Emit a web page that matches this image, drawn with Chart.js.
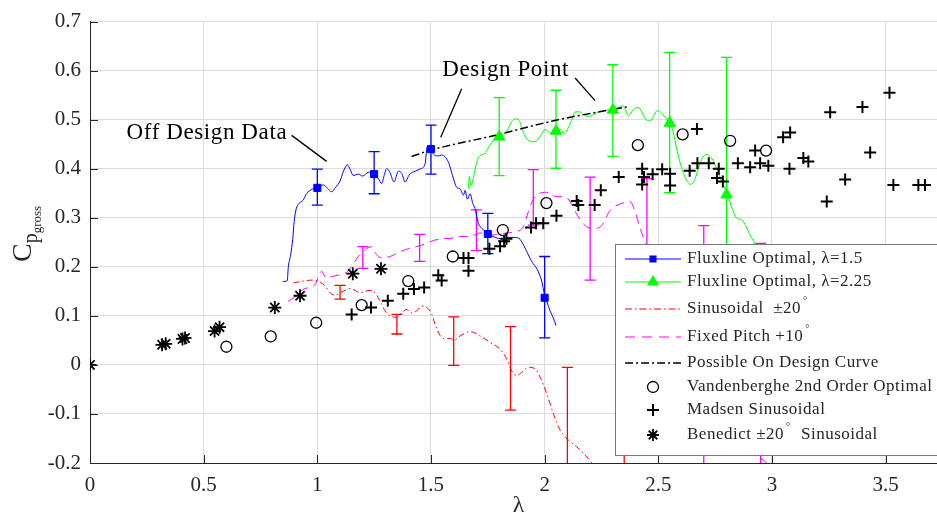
<!DOCTYPE html>
<html>
<head>
<meta charset="utf-8">
<script src="https://cdn.jsdelivr.net/npm/chart.js@4.4.1/dist/chart.umd.min.js"></script>
<style>
  html, body { margin: 0; padding: 0; background: #fff; }
  #wrap { width: 937px; height: 517px; }
</style>
</head>
<body>
<div id="wrap"><canvas id="cpChart" width="937" height="517"></canvas></div>
<script>
// Axis ticks
const xTicks = [0, 0.5, 1, 1.5, 2, 2.5, 3, 3.5];
const yTicks = [-0.2, -0.1, 0, 0.1, 0.2, 0.3, 0.4, 0.5, 0.6, 0.7];
const xMax = 3.726;

// Fluxline optimal, lambda = 1.5 (continuous curve)
const flux15Lambda = [0.848,0.868,0.872,0.883,0.892,0.898,0.906,0.921,0.938,0.950,0.968,0.990,1.000,1.026,1.045,1.063,1.080,1.100,1.115,1.132,1.145,1.158,1.180,1.200,1.225,1.250,1.268,1.283,1.295,1.305,1.320,1.337,1.357,1.372,1.386,1.405,1.430,1.455,1.474,1.484,1.500,1.511,1.530,1.547,1.577,1.595,1.613,1.628,1.643,1.650,1.660,1.672,1.684,1.694,1.708,1.723,1.738,1.752,1.782,1.811,1.840,1.870,1.892,1.914,1.943,1.968,1.987,1.999,2.009,2.024,2.038,2.050];
const flux15Cp = [0.170,0.172,0.198,0.225,0.258,0.292,0.316,0.330,0.336,0.347,0.356,0.360,0.361,0.367,0.360,0.353,0.362,0.375,0.395,0.408,0.398,0.386,0.389,0.385,0.393,0.389,0.380,0.370,0.388,0.400,0.392,0.373,0.395,0.390,0.373,0.388,0.395,0.400,0.410,0.446,0.440,0.430,0.426,0.428,0.413,0.386,0.362,0.359,0.346,0.356,0.338,0.349,0.329,0.319,0.289,0.279,0.272,0.267,0.260,0.257,0.260,0.260,0.256,0.238,0.211,0.194,0.171,0.144,0.130,0.110,0.096,0.080];
// Fluxline optimal, lambda = 1.5 (measured points with error bars)
const flux15PtLambda = [1.00, 1.25, 1.50, 1.75, 2.00];
const flux15PtCp = [0.361, 0.389, 0.440, 0.267, 0.137];
const flux15PtLo = [0.326, 0.349, 0.389, 0.227, 0.055];
const flux15PtHi = [0.399, 0.435, 0.489, 0.309, 0.221];

// Fluxline optimal, lambda = 2.25
const flux225Lambda = [1.665,1.669,1.675,1.686,1.701,1.716,1.733,1.757,1.777,1.800,1.821,1.840,1.855,1.874,1.886,1.903,1.921,1.943,1.965,1.987,2.002,2.021,2.038,2.050,2.071,2.086,2.100,2.119,2.134,2.153,2.170,2.192,2.215,2.237,2.258,2.280,2.300,2.324,2.346,2.368,2.390,2.412,2.427,2.446,2.467,2.481,2.496,2.515,2.537,2.552,2.566,2.581,2.599,2.622,2.643,2.662,2.684,2.710,2.728,2.745,2.764,2.786,2.804,2.823,2.845,2.867,2.886,2.907,2.933,2.960];
const flux225Cp = [0.359,0.385,0.365,0.380,0.413,0.427,0.430,0.446,0.459,0.465,0.471,0.482,0.496,0.502,0.500,0.478,0.461,0.455,0.457,0.471,0.480,0.474,0.471,0.477,0.480,0.471,0.480,0.499,0.516,0.516,0.511,0.506,0.510,0.516,0.518,0.520,0.520,0.525,0.528,0.508,0.520,0.525,0.516,0.500,0.498,0.509,0.519,0.513,0.501,0.493,0.474,0.440,0.407,0.378,0.368,0.380,0.412,0.429,0.425,0.413,0.392,0.366,0.347,0.322,0.299,0.296,0.282,0.262,0.241,0.215];
const flux225PtLambda = [1.80, 2.05, 2.30, 2.55, 2.80];
const flux225PtCp = [0.465, 0.477, 0.520, 0.493, 0.347];
const flux225PtLo = [0.386, 0.401, 0.425, 0.351, 0.000];
const flux225PtHi = [0.545, 0.560, 0.612, 0.637, 0.627];

// Sinusoidal +-20 deg
const sinLambda = [0.895,0.938,0.982,1.012,1.034,1.056,1.078,1.100,1.122,1.144,1.166,1.188,1.210,1.232,1.254,1.268,1.283,1.298,1.320,1.349,1.371,1.393,1.415,1.437,1.459,1.481,1.503,1.518,1.540,1.562,1.584,1.600,1.628,1.672,1.716,1.760,1.804,1.833,1.855,1.877,1.899,1.928,1.958,1.980,2.009,2.038,2.068,2.104,2.141,2.170,2.203,2.240];
const sinCp = [0.167,0.171,0.173,0.169,0.161,0.147,0.142,0.147,0.152,0.156,0.152,0.147,0.150,0.152,0.147,0.137,0.124,0.110,0.100,0.097,0.106,0.113,0.106,0.110,0.120,0.117,0.104,0.083,0.060,0.053,0.054,0.050,0.059,0.068,0.059,0.046,0.032,0.012,-0.012,-0.022,-0.015,-0.005,-0.008,-0.025,-0.058,-0.099,-0.133,-0.153,-0.167,-0.180,-0.197,-0.220];
const sinErrLambda = [1.10, 1.35, 1.60, 1.85, 2.10, 2.35];
const sinErrLo = [0.134, 0.063, -0.001, -0.092, -0.300, -0.300];
const sinErrHi = [0.162, 0.103, 0.098, 0.078, -0.005, -0.120];

// Fixed pitch +10 deg
const fixedLambda = [0.872,0.900,0.938,0.990,1.019,1.038,1.071,1.100,1.129,1.156,1.180,1.210,1.239,1.258,1.283,1.320,1.364,1.408,1.452,1.496,1.540,1.584,1.628,1.672,1.716,1.774,1.833,1.877,1.906,1.928,1.948,1.973,2.009,2.053,2.090,2.119,2.145,2.178,2.215,2.250,2.288,2.332,2.376,2.398,2.420,2.445,2.500,2.600,2.700,2.800,2.900,2.950,3.000];
const fixedCp = [0.130,0.138,0.154,0.164,0.191,0.177,0.181,0.184,0.189,0.204,0.221,0.235,0.241,0.226,0.218,0.221,0.231,0.238,0.243,0.251,0.257,0.258,0.262,0.262,0.269,0.265,0.269,0.272,0.282,0.312,0.336,0.349,0.352,0.343,0.343,0.327,0.304,0.284,0.278,0.284,0.315,0.328,0.333,0.312,0.279,0.245,0.160,0.020,-0.100,-0.160,-0.180,-0.190,-0.210];
const fixedErrLambda = [1.20, 1.45, 1.70, 1.95, 2.20, 2.45, 2.70, 2.95];
const fixedErrLo = [0.197, 0.211, 0.233, 0.285, 0.173, 0.000, -0.300, -0.300];
const fixedErrHi = [0.241, 0.266, 0.316, 0.398, 0.383, 0.380, 0.284, 0.248];

// Possible on-design curve
const designLambda = [1.415, 1.50, 1.80, 2.05, 2.30, 2.361];
const designCp = [0.425, 0.438, 0.470, 0.499, 0.521, 0.526];

// Vandenberghe 2nd order optimal
const vandLambda = [0.600, 0.795, 0.995, 1.195, 1.400, 1.596, 1.816, 2.008, 2.410, 2.607, 2.816, 2.974];
const vandCp = [0.037, 0.058, 0.086, 0.122, 0.171, 0.221, 0.275, 0.330, 0.448, 0.470, 0.457, 0.437];

// Madsen sinusoidal
const madLambda = [1.151,1.236,1.310,1.378,1.425,1.470,1.532,1.547,1.643,1.665,1.665,1.757,1.804,1.822,1.832,1.940,1.962,1.994,2.052,2.141,2.148,2.220,2.247,2.326,2.429,2.429,2.437,2.475,2.517,2.552,2.552,2.638,2.670,2.672,2.722,2.766,2.758,2.784,2.850,2.904,2.926,2.948,2.984,3.049,3.080,3.077,3.138,3.160,3.241,3.256,3.322,3.398,3.432,3.517,3.534,3.644,3.673];
const madCp = [0.103,0.117,0.131,0.145,0.155,0.158,0.183,0.172,0.218,0.218,0.192,0.237,0.242,0.252,0.257,0.280,0.289,0.289,0.304,0.334,0.326,0.326,0.356,0.383,0.400,0.368,0.383,0.389,0.399,0.390,0.366,0.396,0.481,0.411,0.411,0.400,0.381,0.374,0.411,0.403,0.437,0.411,0.406,0.464,0.474,0.400,0.422,0.415,0.333,0.515,0.378,0.526,0.433,0.555,0.367,0.367,0.367];

// Benedict +-20 deg sinusoidal
const benLambda = [0.000, 0.317, 0.333, 0.407, 0.418, 0.548, 0.570, 0.813, 0.924, 1.156, 1.280];
const benCp = [0.000, 0.041, 0.043, 0.053, 0.055, 0.069, 0.077, 0.117, 0.141, 0.186, 0.196];

const legendLabels = [
  'Fluxline Optimal, \u03bb=1.5',
  'Fluxline Optimal, \u03bb=2.25',
  'Sinusoidal  \u00b120{\u00b0}',
  'Fixed Pitch +10{\u00b0}',
  'Possible On Design Curve',
  'Vandenberghe 2nd Order Optimal',
  'Madsen Sinusoidal',
  'Benedict \u00b120{\u00b0}  Sinusoidal'
];

// Callout texts, anchored in data units
const callouts = [
  { text: 'Off Design Data', at: [0.161, 0.4605], lines: [[[0.887, 0.468], [1.041, 0.415]]] },
  { text: 'Design Point', at: [1.55, 0.590], lines: [[[1.635, 0.563], [1.543, 0.464]], [[2.134, 0.585], [2.222, 0.539]]] }
];

const SERIF = '"Liberation Serif", "Times New Roman", serif';
const BLUE = '#0000ff', GREEN = '#00ff00', RED = '#ff0000', MAGENTA = '#ff00ff';

Chart.defaults.font.family = SERIF;

function pairs(xs, ys) {
  return xs.map((x, i) => ({ x: x, y: ys[i] }));
}

const errorSets = [
  { color: MAGENTA, lambda: fixedErrLambda, lo: fixedErrLo, hi: fixedErrHi },
  { color: RED, lambda: sinErrLambda, lo: sinErrLo, hi: sinErrHi },
  { color: BLUE, lambda: flux15PtLambda, lo: flux15PtLo, hi: flux15PtHi },
  { color: GREEN, lambda: flux225PtLambda, lo: flux225PtLo, hi: flux225PtHi }
];

function markerSet(xs, ys, style, radius, width, fill) {
  return {
    data: pairs(xs, ys),
    showLine: false,
    pointStyle: style,
    pointRadius: radius,
    pointBorderWidth: width,
    pointBorderColor: fill || '#000',
    pointBackgroundColor: fill || 'rgba(0,0,0,0)'
  };
}

function curveSet(xs, ys, color, width, dash) {
  return {
    data: pairs(xs, ys),
    borderColor: color,
    borderWidth: width,
    borderDash: dash || [],
    pointRadius: 0,
    cubicInterpolationMode: 'monotone',
    fill: false
  };
}

// Small point drawer for the legend
function drawMarker(ctx, style, x, y, r, color) {
  ctx.save();
  ctx.strokeStyle = color;
  ctx.fillStyle = color;
  ctx.setLineDash([]);
  ctx.beginPath();
  if (style === 'rect') {
    const s = r * Math.SQRT1_2;
    ctx.fillRect(x - s, y - s, 2 * s, 2 * s);
  } else if (style === 'triangle') {
    ctx.moveTo(x, y - r);
    ctx.lineTo(x + r * 0.866, y + r * 0.5);
    ctx.lineTo(x - r * 0.866, y + r * 0.5);
    ctx.closePath();
    ctx.fill();
  } else if (style === 'circle') {
    ctx.lineWidth = 1.3;
    ctx.arc(x, y, r, 0, Math.PI * 2);
    ctx.stroke();
  } else if (style === 'cross') {
    ctx.lineWidth = 2;
    ctx.moveTo(x - r, y); ctx.lineTo(x + r, y);
    ctx.moveTo(x, y - r); ctx.lineTo(x, y + r);
    ctx.stroke();
  } else if (style === 'star') {
    ctx.lineWidth = 1.8;
    const d = r * Math.SQRT1_2;
    ctx.moveTo(x - r, y); ctx.lineTo(x + r, y);
    ctx.moveTo(x, y - r); ctx.lineTo(x, y + r);
    ctx.moveTo(x - d, y - d); ctx.lineTo(x + d, y + d);
    ctx.moveTo(x - d, y + d); ctx.lineTo(x + d, y - d);
    ctx.stroke();
  }
  ctx.restore();
}

// text with {..} parts drawn as superscript
function drawRich(ctx, text, x, y, size) {
  text.split(/(\{[^}]*\})/).forEach(part => {
    if (!part) return;
    const sup = part.charAt(0) === '{';
    const t = sup ? part.slice(1, -1) : part;
    ctx.font = (sup ? Math.round(size * 0.6) : size) + 'px ' + SERIF;
    ctx.fillText(t, x + (sup ? 2 : 0), sup ? y - size * 0.42 : y);
    x += ctx.measureText(t).width + (sup ? 3 : 0);
  });
}

const errorBarPlugin = {
  id: 'errorBars',
  beforeDatasetsDraw(chart) {
    const { ctx, chartArea: a, scales: { x, y } } = chart;
    const cap = 5.5;
    ctx.save();
    ctx.beginPath();
    ctx.rect(a.left, a.top, a.right - a.left, a.bottom - a.top);
    ctx.clip();
    ctx.lineWidth = 1.3;
    errorSets.forEach(set => {
      ctx.strokeStyle = set.color;
      set.lambda.forEach((l, i) => {
        const px = x.getPixelForValue(l);
        const top = y.getPixelForValue(set.hi[i]);
        const bot = y.getPixelForValue(set.lo[i]);
        ctx.beginPath();
        ctx.moveTo(px, top); ctx.lineTo(px, bot);
        ctx.moveTo(px - cap, top); ctx.lineTo(px + cap, top);
        ctx.moveTo(px - cap, bot); ctx.lineTo(px + cap, bot);
        ctx.stroke();
      });
    });
    ctx.restore();
  }
};

const decorPlugin = {
  id: 'decor',
  afterDatasetsDraw(chart) {
    const { ctx, chartArea: a, scales: { x, y } } = chart;
    ctx.save();
    // inward tick marks
    ctx.strokeStyle = '#262626';
    ctx.lineWidth = 1;
    ctx.beginPath();
    xTicks.forEach(v => {
      const px = Math.round(x.getPixelForValue(v)) + 0.5;
      ctx.moveTo(px, a.bottom); ctx.lineTo(px, a.bottom - 8);
    });
    yTicks.forEach(v => {
      const py = Math.round(y.getPixelForValue(v)) + 0.5;
      ctx.moveTo(a.left, py); ctx.lineTo(a.left + 8, py);
    });
    ctx.stroke();

    // callouts
    ctx.fillStyle = '#000';
    ctx.strokeStyle = '#000';
    ctx.lineWidth = 1.3;
    ctx.font = '23px ' + SERIF;
    ctx.letterSpacing = '0.6px';
    ctx.textBaseline = 'alphabetic';
    callouts.forEach(c => {
      ctx.fillText(c.text, x.getPixelForValue(c.at[0]), y.getPixelForValue(c.at[1]));
      c.lines.forEach(seg => {
        ctx.beginPath();
        ctx.moveTo(x.getPixelForValue(seg[0][0]), y.getPixelForValue(seg[0][1]));
        ctx.lineTo(x.getPixelForValue(seg[1][0]), y.getPixelForValue(seg[1][1]));
        ctx.stroke();
      });
    });
    ctx.letterSpacing = '0px';

    // axis titles
    ctx.fillStyle = '#262626';
    ctx.textAlign = 'center';
    ctx.font = '24px ' + SERIF;
    ctx.fillText('\u03bb', (a.left + a.right) / 2 + 5, 512);
    ctx.textAlign = 'left';
    ctx.translate(31, 262);
    ctx.rotate(-Math.PI / 2);
    ctx.font = '28px ' + SERIF;
    ctx.fillText('C', 0, 0);
    const wc = ctx.measureText('C').width;
    ctx.font = '20px ' + SERIF;
    ctx.fillText('p', wc, 6);
    const wp = ctx.measureText('p').width;
    ctx.font = '13px ' + SERIF;
    ctx.fillText('gross', wc + wp, 10);
    ctx.restore();
  }
};

const legendPlugin = {
  id: 'boxLegend',
  afterDraw(chart) {
    const ctx = chart.ctx;
    const left = 615, top = 244, bottom = 455;
    const rowY = [259, 282, 309, 337, 363, 387, 410, 435];
    const lineX0 = 625, lineX1 = 681, mid = 653, textX = 687;
    const entries = [
      { color: BLUE, dash: [], marker: 'rect', r: 5 },
      { color: GREEN, dash: [], marker: 'triangle', r: 7 },
      { color: RED, dash: [7, 3, 1.5, 3] },
      { color: MAGENTA, dash: [10, 7] },
      { color: '#000', dash: [8, 3, 2, 3], width: 1.5 },
      { marker: 'circle', r: 5.5, color: '#000' },
      { marker: 'cross', r: 6, color: '#000' },
      { marker: 'star', r: 6, color: '#000' }
    ];
    ctx.save();
    ctx.fillStyle = '#fff';
    ctx.fillRect(left, top, 960 - left, bottom - top);
    ctx.strokeStyle = '#7a7a7a';
    ctx.lineWidth = 1;
    ctx.strokeRect(left + 0.5, top + 0.5, 960 - left, bottom - top);
    entries.forEach((e, i) => {
      const yy = rowY[i];
      if (e.dash) {
        ctx.strokeStyle = e.color;
        ctx.lineWidth = e.width || 1.2;
        ctx.setLineDash(e.dash);
        ctx.beginPath();
        ctx.moveTo(lineX0, yy); ctx.lineTo(lineX1, yy);
        ctx.stroke();
        ctx.setLineDash([]);
      }
      if (e.marker) drawMarker(ctx, e.marker, mid, yy, e.r, e.color);
      ctx.fillStyle = '#262626';
      ctx.textBaseline = 'middle';
      ctx.letterSpacing = '0.5px';
      drawRich(ctx, legendLabels[i], textX, yy, 17);
    });
    ctx.restore();
  }
};

const ctx = document.getElementById('cpChart').getContext('2d');

const cpChart = new Chart(ctx, {
  type: 'line',
  data: {
    datasets: [
      markerSet(benLambda, benCp, 'star', 6.5, 1.8),
      markerSet(madLambda, madCp, 'cross', 6, 2),
      markerSet(vandLambda, vandCp, 'circle', 5.5, 1.3),
      markerSet(flux15PtLambda, flux15PtCp, 'rect', 5, 1, BLUE),
      markerSet(flux225PtLambda, flux225PtCp, 'triangle', 6.5, 1, GREEN),
      curveSet(designLambda, designCp, '#000', 1.5, [8, 3, 2, 3]),
      curveSet(flux15Lambda, flux15Cp, BLUE, 1),
      curveSet(flux225Lambda, flux225Cp, GREEN, 1),
      curveSet(fixedLambda, fixedCp, MAGENTA, 1, [9, 6]),
      curveSet(sinLambda, sinCp, RED, 1, [6, 3, 1.5, 3])
    ]
  },
  options: {
    responsive: false,
    animation: false,
    events: [],
    layout: { autoPadding: false, padding: { top: 18, right: 0, bottom: 0, left: 0 } },
    plugins: {
      legend: { display: false },
      tooltip: { enabled: false }
    },
    scales: {
      x: {
        type: 'linear',
        min: 0,
        max: xMax,
        afterFit: s => { s.height = 54; },
        afterBuildTicks: s => { s.ticks = xTicks.map(v => ({ value: v })); },
        grid: { color: '#dcdcdc', lineWidth: 1, drawTicks: false },
        border: { color: '#262626', width: 1 },
        ticks: {
          color: '#262626',
          font: { family: SERIF, size: 21 },
          padding: 10,
          maxRotation: 0,
          callback: v => String(v)
        }
      },
      y: {
        type: 'linear',
        min: -0.2,
        max: 0.7,
        afterFit: s => { s.width = 90; },
        afterBuildTicks: s => { s.ticks = yTicks.map(v => ({ value: v })); },
        grid: { color: '#dcdcdc', lineWidth: 1, drawTicks: false },
        border: { color: '#262626', width: 1 },
        ticks: {
          color: '#262626',
          font: { family: SERIF, size: 21 },
          padding: 9,
          callback: v => String(v)
        }
      }
    }
  },
  plugins: [errorBarPlugin, decorPlugin, legendPlugin]
});
</script>
</body>
</html>
